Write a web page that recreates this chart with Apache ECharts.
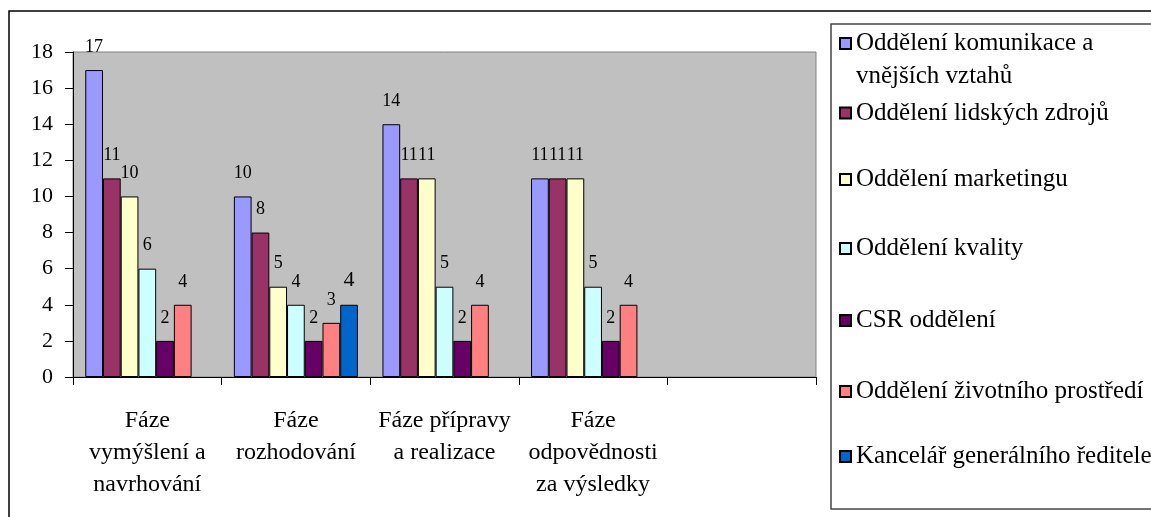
<!DOCTYPE html>
<html>
<head>
<meta charset="utf-8">
<script src="https://cdn.jsdelivr.net/npm/echarts@6/dist/echarts.min.js"></script>
<style>html,body{margin:0;padding:0;background:#fff}#c{width:1151px;height:517px}</style>
</head>
<body>
<div id="c"></div>
<script>
const categories = ['Fáze\nvymýšlení a\nnavrhování', 'Fáze\nrozhodování', 'Fáze přípravy\na realizace', 'Fáze\nodpovědnosti\nza výsledky', ''];
const seriesNames = ['Oddělení komunikace a vnějších vztahů', 'Oddělení lidských zdrojů', 'Oddělení marketingu', 'Oddělení kvality', 'CSR oddělení', 'Oddělení životního prostředí', 'Kancelář generálního ředitele'];
const komunikace = [17, 10, 14, 11, null];
const lidske = [11, 8, 11, 11, null];
const marketing = [10, 5, 11, 11, null];
const kvalita = [6, 4, 5, 5, null];
const csr = [2, 2, 2, 2, null];
const prostredi = [4, 3, 4, 4, null];
const kancelar = [null, 4, null, null, null];
const yTicks = [0, 2, 4, 6, 8, 10, 12, 14, 16, 18];

const seriesData = [komunikace, lidske, marketing, kvalita, csr, prostredi, kancelar];
const colors = ['#9999FF', '#993366', '#FFFFCC', '#CCFFFF', '#660066', '#FF8080', '#0066CC'];
const FONT = "'Liberation Serif', 'Times New Roman', serif";
const legendCenters = [43.5, 112.5, 179, 248, 320, 391, 456];

const series = seriesNames.map((n, i) => ({
  name: n,
  type: 'bar',
  data: seriesData[i],
  barGap: '0%',
  barCategoryGap: '16.5%',
  itemStyle: { color: colors[i], borderColor: '#000', borderWidth: 1 },
  label: { show: true, position: 'top', distance: 14, color: '#000', fontFamily: FONT, fontSize: i === 6 ? 22 : 18 },
  animation: false
}));

const legends = seriesNames.map((n, i) => {
  const first = i === 0;
  return {
    data: [n],
    left: 839,
    top: first ? legendCenters[i] - 49.5 : legendCenters[i] - 12,
    padding: 0,
    itemWidth: 11,
    itemHeight: 11,
    itemGap: 0,
    icon: 'rect',
    selectedMode: false,
    formatter: first ? () => ' \nOddělení komunikace a\nvnějších vztahů' : undefined,
    textStyle: first
      ? { fontFamily: FONT, fontSize: 25, color: '#000', lineHeight: 33 }
      : { fontFamily: FONT, fontSize: 25, color: '#000', lineHeight: 24 }
  };
});

const chart = echarts.init(document.getElementById('c'));
chart.setOption({
  animation: false,
  backgroundColor: '#fff',
  textStyle: { fontFamily: FONT },
  grid: { left: 73, right: 335, top: 52, bottom: 140, show: true, backgroundColor: '#C0C0C0', borderColor: '#808080', borderWidth: 1 },
  xAxis: {
    type: 'category',
    data: categories,
    axisLine: { lineStyle: { color: '#000', width: 1 } },
    axisTick: { show: true, length: 8, lineStyle: { color: '#000' } },
    axisLabel: { interval: 0, fontFamily: FONT, fontSize: 24, lineHeight: 32, color: '#000', margin: 28 }
  },
  yAxis: {
    type: 'value',
    min: yTicks[0],
    max: yTicks[yTicks.length - 1],
    interval: 2,
    axisLine: { show: true, lineStyle: { color: '#000', width: 1 } },
    axisTick: { show: true, length: 8, lineStyle: { color: '#000' } },
    splitLine: { show: false },
    axisLabel: { fontFamily: FONT, fontSize: 22, color: '#000', margin: 20 }
  },
  legend: legends,
  graphic: [
    { type: 'rect', shape: { x: 9, y: 11, width: 1300, height: 700 }, style: { fill: 'none', stroke: '#000', lineWidth: 1.5 }, z: 100 },
    { type: 'rect', shape: { x: 831, y: 24, width: 600, height: 485 }, style: { fill: 'none', stroke: '#444', lineWidth: 1.5 }, z: 100 }
  ],
  series: series
});
</script>
</body>
</html>
